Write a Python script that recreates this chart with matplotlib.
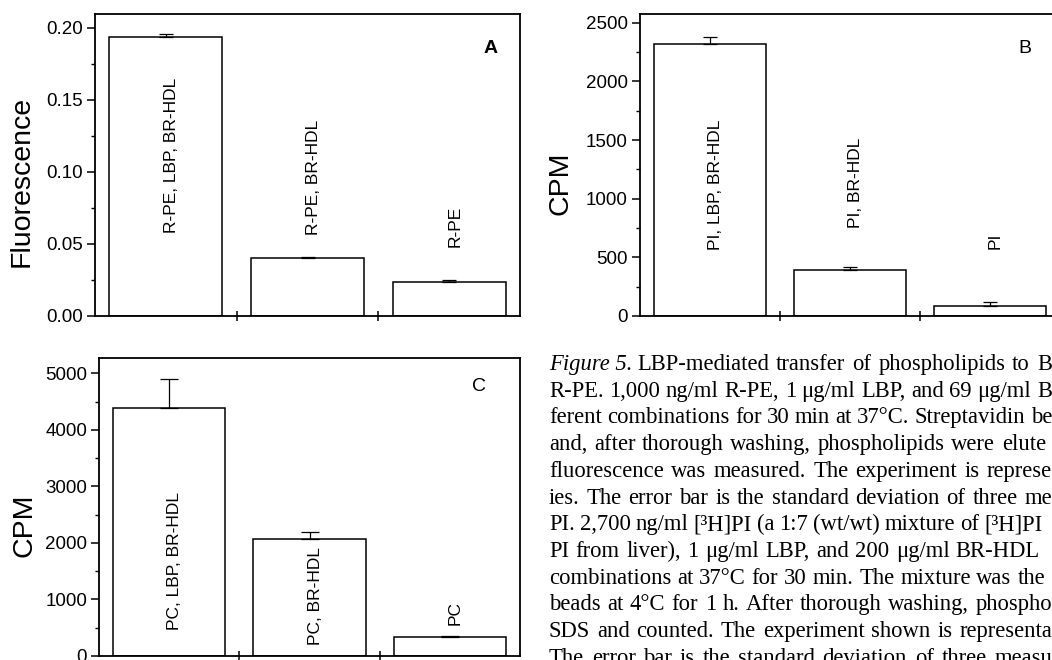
import matplotlib
matplotlib.use("Agg")
import matplotlib.pyplot as plt
import numpy as np
from matplotlib.ticker import MultipleLocator, FormatStrFormatter

plt.rcParams['font.family'] = ['Liberation Sans', 'DejaVu Sans']

# Panel A: R-PE fluorescence
a_labels = ["R-PE, LBP, BR-HDL", "R-PE, BR-HDL", "R-PE"]
a_values = [0.1935, 0.0400, 0.0238]
a_errors = [0.0020, 0.0007, 0.0012]

# Panel B: PI counts
b_labels = ["PI, LBP, BR-HDL", "PI, BR-HDL", "PI"]
b_values = [2316, 395, 85]
b_errors = [60, 26, 32]

# Panel C: PC counts
c_labels = ["PC, LBP, BR-HDL", "PC, BR-HDL", "PC"]
c_values = [4385, 2065, 342]
c_errors = [515, 130, 17]

# caption, only the part visible on the page scan (it runs off the right edge)
caption_head = "Figure 5."
caption_lines = [
    "LBP-mediated transfer of phospholipids to B",
    "R-PE. 1,000 ng/ml R-PE, 1 \u03bcg/ml LBP, and 69 \u03bcg/ml B",
    "ferent combinations for 30 min at 37\u00b0C. Streptavidin be",
    "and, after thorough washing, phospholipids were elute",
    "fluorescence was measured. The experiment is represe",
    "ies. The error bar is the standard deviation of three me",
    "PI. 2,700 ng/ml [\u00b3H]PI (a 1:7 (wt/wt) mixture of [\u00b3H]PI",
    "PI from liver), 1 \u03bcg/ml LBP, and 200 \u03bcg/ml BR-HDL",
    "combinations at 37\u00b0C for 30 min. The mixture was the",
    "beads at 4\u00b0C for 1 h. After thorough washing, phospho",
    "SDS and counted. The experiment shown is representa",
    "The error bar is the standard deviation of three measu",
]
# where each visible line stops at most, in pixels
caption_ends = [1052, 1052, 1052, 1046, 1052, 1052, 1040, 1040, 1045, 1052, 1052, 1052]


def draw_panel(ax, labels, values, errors, ymax, major, minor, fmt,
               ylabel, label_xy, letter, letter_pos, letter_weight, label_y, capsize):
    x = np.arange(1, len(values) + 1)
    ax.bar(x, values, width=0.8, color='white', edgecolor='black', linewidth=1.1)
    ax.errorbar(x, values, yerr=[np.zeros(len(errors)), errors], fmt='none',
                ecolor='black', elinewidth=0.9, capsize=capsize, capthick=0.9)
    for xi, lab, ly in zip(x, labels, label_y):
        ax.text(xi + 0.04, ly, lab, rotation=90, ha='center', va='bottom', fontsize=12.5)
    ax.set_xlim(0.5, len(values) + 0.5)
    ax.set_ylim(0, ymax)
    ax.set_xticks(x[:-1] + 0.5)
    ax.tick_params(axis='x', direction='inout', length=7, width=1.1, labelbottom=False)
    ax.yaxis.set_major_locator(MultipleLocator(major))
    ax.yaxis.set_minor_locator(MultipleLocator(minor))
    ax.yaxis.set_major_formatter(FormatStrFormatter(fmt))
    ax.tick_params(axis='y', which='major', direction='out', length=5.5, width=1.1,
                   labelsize=13.5, pad=3)
    ax.tick_params(axis='y', which='minor', direction='out', length=3, width=1.0)
    for sp in ax.spines.values():
        sp.set_linewidth(1.3)
    ax.set_ylabel(ylabel, fontsize=20.5)
    ax.yaxis.set_label_coords(*label_xy)
    ax.text(letter_pos[0], letter_pos[1], letter, transform=ax.transAxes,
            fontsize=14, fontweight=letter_weight, ha='center', va='center')


fig = plt.figure(figsize=(10.52, 6.6), dpi=100)
W, H = 1052, 660

ax_a = fig.add_axes([95 / W, 1 - 316 / H, 425 / W, 302 / H])
ax_b = fig.add_axes([639.5 / W, 1 - 316 / H, 420 / W, 302 / H])
ax_c = fig.add_axes([99 / W, 1 - 656 / H, 421 / W, 298 / H])

draw_panel(ax_a, a_labels, a_values, a_errors, 0.2097, 0.05, 0.025, '%.2f',
           'Fluorescence', (-0.141, 0.447), 'A', (0.93, 0.887), 'bold',
           [0.0576, 0.056, 0.048], 5)
draw_panel(ax_b, b_labels, b_values, b_errors, 2574, 500, 250, '%d',
           'CPM', (-0.156, 0.44), 'B', (0.918, 0.887), 'normal', [563, 750, 571], 5)
draw_panel(ax_c, c_labels, c_values, c_errors, 5271, 1000, 500, '%d',
           'CPM', (-0.145, 0.44), 'C', (0.903, 0.903), 'normal', [460, 195, 549], 6.5)

# caption text, justified word by word like the printed page
serif = ['Liberation Serif', 'DejaVu Serif']
fs = 16.3
x0 = 549
base0 = 370
step = 26.7
min_gap = 5.0
renderer = fig.canvas.get_renderer()
fig.text(x0 / W, 1 - base0 / H, caption_head, family=serif, style='italic',
         fontsize=fs, va='baseline', ha='left')
for i, line in enumerate(caption_lines):
    xs = 637 if i == 0 else x0
    yy = 1 - (base0 + i * step) / H
    words = line.split(' ')
    texts = [fig.text(0, yy, w, family=serif, fontsize=fs, va='baseline', ha='left')
             for w in words]
    widths = [t.get_window_extent(renderer).width for t in texts]
    gap = (caption_ends[i] - xs - sum(widths)) / max(len(words) - 1, 1)
    gap = max(gap, min_gap)
    xpos = xs
    for t, wd in zip(texts, widths):
        t.set_x(xpos / W)
        xpos += wd + gap

fig.savefig('out.png', dpi=100)
